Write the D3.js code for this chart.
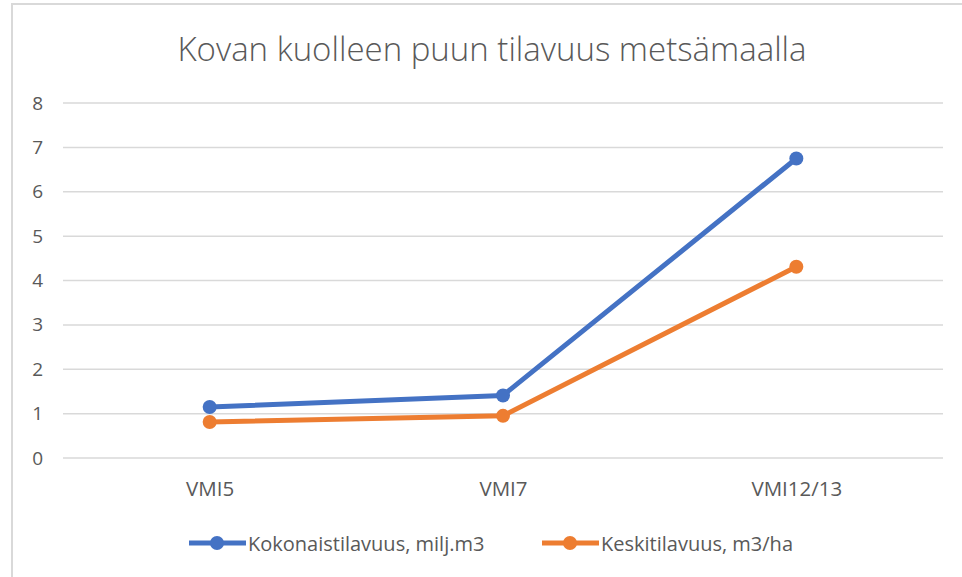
<!DOCTYPE html>
<html>
<head>
<meta charset="utf-8">
<script src="https://cdn.jsdelivr.net/npm/d3@7"></script>
<style>
  body { margin: 0; background: #fff; }
  svg { display: block; font-family: "Open Sans", "Noto Sans", sans-serif; }
</style>
</head>
<body>
<div id="chart"></div>
<script>
// data
var categories = ["VMI5", "VMI7", "VMI12/13"];
var kokonais = [1.15, 1.41, 6.75];   // Kokonaistilavuus, milj.m3
var keski = [0.81, 0.95, 4.31];      // Keskitilavuus, m3/ha
var yTicks = [0, 1, 2, 3, 4, 5, 6, 7, 8];
var seriesNames = ["Kokonaistilavuus, milj.m3", "Keskitilavuus, m3/ha"];
var seriesColors = ["#4472C4", "#ED7D31"];

var W = 962, H = 577;
var margin = {top: 103, right: 19, bottom: 119, left: 63};
var width = W - margin.left - margin.right,
    height = H - margin.top - margin.bottom;

var svg = d3.select("#chart").append("svg")
  .attr("width", W)
  .attr("height", H);

// chart frame (cropped at right/bottom)
svg.append("path")
  .attr("d", "M12,577 V4 H962")
  .attr("fill", "none")
  .attr("stroke", "#d9d9d9")
  .attr("stroke-width", 2);

svg.append("text")
  .attr("x", 492)
  .attr("y", 61)
  .attr("text-anchor", "middle")
  .attr("font-size", 33)
  .attr("font-weight", 300)
  .attr("fill", "#595959")
  .text("Kovan kuolleen puun tilavuus metsämaalla");

var main = svg.append("g")
  .attr("transform", "translate(" + margin.left + "," + margin.top + ")");

var x = d3.scalePoint()
  .domain(categories)
  .range([0, width])
  .padding(0.5);

var y = d3.scaleLinear()
  .domain([0, 8])
  .range([height, 0]);

// gridlines
main.selectAll(".grid")
  .data(yTicks)
  .enter().append("line")
    .attr("x1", 0)
    .attr("x2", width)
    .attr("y1", function (d) { return y(d); })
    .attr("y2", function (d) { return y(d); })
    .attr("stroke", "#d9d9d9")
    .attr("stroke-width", 1.5);

// y axis labels
var yAxis = d3.axisLeft(y).tickValues(yTicks).tickSize(0).tickPadding(20);
main.append("g")
  .call(yAxis)
  .call(function (g) { g.select(".domain").remove(); })
  .selectAll("text")
    .attr("font-size", 19)
    .attr("font-family", "Open Sans, sans-serif")
    .attr("fill", "#595959");

// x axis labels
var xAxis = d3.axisBottom(x).tickSize(0).tickPadding(23);
main.append("g")
  .attr("transform", "translate(0," + height + ")")
  .call(xAxis)
  .call(function (g) { g.select(".domain").remove(); })
  .selectAll("text")
    .attr("font-size", 20.5)
    .attr("font-family", "Open Sans, sans-serif")
    .attr("fill", "#595959");

var line = d3.line()
  .x(function (d, i) { return x(categories[i]); })
  .y(function (d) { return y(d); });

[kokonais, keski].forEach(function (vals, s) {
  main.append("path")
    .datum(vals)
    .attr("d", line)
    .attr("fill", "none")
    .attr("stroke", seriesColors[s])
    .attr("stroke-width", 5)
    .attr("stroke-linejoin", "round");

  main.selectAll(".dot" + s)
    .data(vals)
    .enter().append("circle")
      .attr("cx", function (d, i) { return x(categories[i]); })
      .attr("cy", function (d) { return y(d); })
      .attr("r", 7)
      .attr("fill", seriesColors[s]);
});

// legend
var legendX = [189, 542];
var legend = svg.selectAll(".legend")
  .data(seriesNames)
  .enter().append("g")
    .attr("transform", function (d, i) { return "translate(" + legendX[i] + ",543)"; });

legend.append("line")
  .attr("x1", 0).attr("x2", 57)
  .attr("stroke", function (d, i) { return seriesColors[i]; })
  .attr("stroke-width", 5);

legend.append("circle")
  .attr("cx", 28).attr("r", 7)
  .attr("fill", function (d, i) { return seriesColors[i]; });

legend.append("text")
  .attr("x", 59)
  .attr("y", 8)
  .attr("font-size", 20)
  .attr("fill", "#595959")
  .text(function (d) { return d; });
</script>
</body>
</html>
